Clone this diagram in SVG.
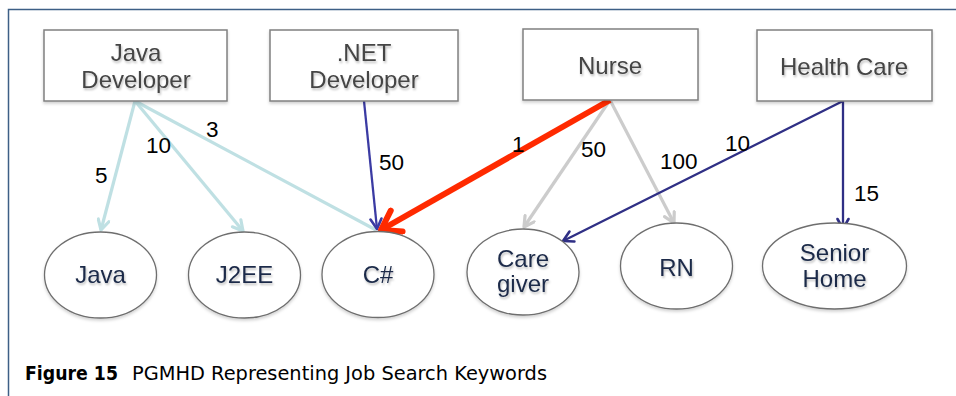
<svg xmlns="http://www.w3.org/2000/svg" width="956" height="396" viewBox="0 0 956 396">
<style>
.box{fill:#fff;stroke:#808080;stroke-width:1.5}
.ell{fill:#fff;stroke:#6e6e6e;stroke-width:1.3}
.bt{font-family:"Liberation Sans",Arial,sans-serif;font-size:24px;fill:#444;text-anchor:middle}
.et{font-family:"Liberation Sans",Arial,sans-serif;font-size:24px;fill:#1b2a48;text-anchor:middle}
.lbl{font-family:"Liberation Sans",Arial,sans-serif;font-size:22.5px;fill:#000}
.cap{font-family:"DejaVu Sans","Liberation Sans",sans-serif;font-size:19px;fill:#000}
.sh{filter:url(#ts)}
</style>
<defs>
<filter id="ts" x="-20%" y="-20%" width="140%" height="150%">
<feDropShadow dx="1" dy="2" stdDeviation="1.2" flood-color="#000" flood-opacity="0.25"/>
</filter>
<filter id="bs" x="-10%" y="-10%" width="120%" height="130%">
<feDropShadow dx="0" dy="2" stdDeviation="1.5" flood-color="#000" flood-opacity="0.18"/>
</filter>
<marker id="aLb" viewBox="0 0 14 14" refX="12" refY="7" markerWidth="14" markerHeight="14" markerUnits="userSpaceOnUse" orient="auto">
<polyline points="2,1.5 12,7 2,12.5" fill="none" stroke="#bfe0e3" stroke-width="3.2" stroke-linecap="round" stroke-linejoin="round"/>
</marker>
<marker id="aGr" viewBox="0 0 14 14" refX="12" refY="7" markerWidth="14" markerHeight="14" markerUnits="userSpaceOnUse" orient="auto">
<polyline points="2,1.5 12,7 2,12.5" fill="none" stroke="#cccccc" stroke-width="3.2" stroke-linecap="round" stroke-linejoin="round"/>
</marker>
<marker id="aNv" viewBox="0 0 14 14" refX="12" refY="7" markerWidth="14" markerHeight="14" markerUnits="userSpaceOnUse" orient="auto">
<polyline points="2,1.5 12,7 2,12.5" fill="none" stroke="#2f2f85" stroke-width="2.6" stroke-linecap="round" stroke-linejoin="round"/>
</marker>
<marker id="aBl" viewBox="0 0 14 14" refX="12" refY="7" markerWidth="14" markerHeight="14" markerUnits="userSpaceOnUse" orient="auto">
<polyline points="2,1.5 12,7 2,12.5" fill="none" stroke="#3b3ba3" stroke-width="2.6" stroke-linecap="round" stroke-linejoin="round"/>
</marker>
<marker id="aRd" viewBox="0 0 30 30" refX="26" refY="15" markerWidth="30" markerHeight="30" markerUnits="userSpaceOnUse" orient="auto">
<polyline points="8,3 26,15 8,27" fill="none" stroke="#ff2a00" stroke-width="6" stroke-linecap="round" stroke-linejoin="round"/>
</marker>
</defs>
<rect width="956" height="396" fill="#fff"/>
<g id="frame">
<path d="M8.5,396 V9.5 H956" fill="none" stroke="#3d5f86" stroke-width="1.5"/>
</g>
<g id="connectors">
<line x1="135" y1="101" x2="101" y2="230" stroke="#bfe0e3" stroke-width="3.2" marker-end="url(#aLb)"/>
<line x1="135" y1="101" x2="243" y2="231" stroke="#bfe0e3" stroke-width="3.2" marker-end="url(#aLb)"/>
<line x1="135" y1="101" x2="376" y2="230" stroke="#bfe0e3" stroke-width="3.2"/>
<line x1="364" y1="101" x2="377" y2="229" stroke="#3b3ba3" stroke-width="2.3" marker-end="url(#aBl)"/>
<line x1="610" y1="100" x2="524" y2="227" stroke="#cccccc" stroke-width="3.2" marker-end="url(#aGr)"/>
<line x1="610" y1="100" x2="674" y2="223" stroke="#cccccc" stroke-width="3.2" marker-end="url(#aGr)"/>
<line x1="843" y1="101" x2="563" y2="241" stroke="#2f2f85" stroke-width="2.3" marker-end="url(#aNv)"/>
<line x1="843" y1="101" x2="843" y2="229" stroke="#2f2f85" stroke-width="2.3" marker-end="url(#aNv)"/>
<line x1="610" y1="100" x2="381" y2="230" stroke="#ff2a00" stroke-width="6" marker-end="url(#aRd)"/>
<text class="lbl" x="95" y="183">5</text>
<text class="lbl" x="146" y="153">10</text>
<text class="lbl" x="206" y="137">3</text>
<text class="lbl" x="379" y="170">50</text>
<text class="lbl" x="512" y="152">1</text>
<text class="lbl" x="581" y="157">50</text>
<text class="lbl" x="660" y="169">100</text>
<text class="lbl" x="725" y="151">10</text>
<text class="lbl" x="854" y="201">15</text>
</g>
<g id="n-javadev">
<rect class="box" x="44" y="30" width="183" height="71" filter="url(#bs)"/>
<text class="bt sh"><tspan x="136" y="61">Java</tspan><tspan x="136" y="88">Developer</tspan></text>
</g>
<g id="n-netdev">
<rect class="box" x="270" y="30" width="188" height="71" filter="url(#bs)"/>
<text class="bt sh"><tspan x="364" y="61">.NET</tspan><tspan x="364" y="88">Developer</tspan></text>
</g>
<g id="n-nurse">
<rect class="box" x="523" y="29" width="175" height="71" filter="url(#bs)"/>
<text class="bt sh" x="610" y="74">Nurse</text>
</g>
<g id="n-healthcare">
<rect class="box" x="757" y="30" width="175" height="71" filter="url(#bs)"/>
<text class="bt sh" x="844" y="75">Health Care</text>
</g>
<g id="n-java">
<ellipse class="ell" cx="100.5" cy="275" rx="56" ry="43" filter="url(#bs)"/>
<text class="et sh" x="100.5" y="283">Java</text>
</g>
<g id="n-j2ee">
<ellipse class="ell" cx="244.5" cy="275" rx="56" ry="43" filter="url(#bs)"/>
<text class="et sh" x="244.5" y="283">J2EE</text>
</g>
<g id="n-csharp">
<ellipse class="ell" cx="378" cy="274.5" rx="56" ry="43" filter="url(#bs)"/>
<text class="et sh" x="378" y="283">C#</text>
</g>
<g id="n-caregiver">
<ellipse class="ell" cx="523" cy="272" rx="56" ry="43" filter="url(#bs)"/>
<text class="et sh"><tspan x="523" y="267">Care</tspan><tspan x="523" y="292">giver</tspan></text>
</g>
<g id="n-rn">
<ellipse class="ell" cx="676.5" cy="266" rx="56" ry="43" filter="url(#bs)"/>
<text class="et sh" x="676.5" y="276">RN</text>
</g>
<g id="n-seniorhome">
<ellipse class="ell" cx="834.5" cy="266" rx="72" ry="43" filter="url(#bs)"/>
<text class="et sh"><tspan x="834.5" y="261">Senior</tspan><tspan x="834.5" y="287">Home</tspan></text>
</g>
<g id="caption">
<text class="cap" x="25" y="380" font-weight="bold" textLength="93" lengthAdjust="spacingAndGlyphs">Figure 15</text>
<text class="cap" x="132" y="380" textLength="415" lengthAdjust="spacingAndGlyphs">PGMHD Representing Job Search Keywords</text>
</g>
</svg>
